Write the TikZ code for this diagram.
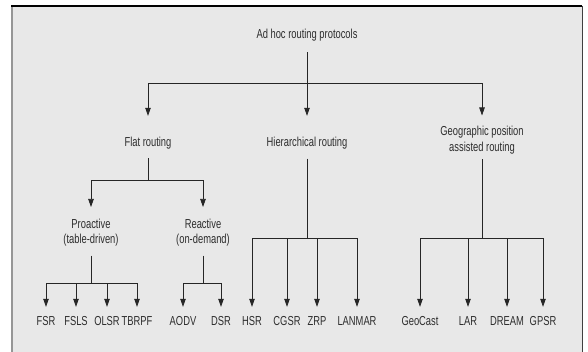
\documentclass[tikz,border=0pt]{standalone}
\usepackage{fontspec}
\setmainfont{Liberation Sans}[FakeStretch=0.72]
\usepackage{tikz}
\usetikzlibrary{arrows.meta}
\definecolor{panelgray}{RGB}{232, 232, 232}
\definecolor{inkgray}{RGB}{45, 45, 45}
\definecolor{edgegray}{RGB}{150, 150, 150}

\begin{document}
\begin{tikzpicture}[x=1pt, y=-1pt,
  lbl/.style={inner sep=0pt, text=inkgray, align=center, font=\fontsize{13}{15.5}\selectfont},
  leaf/.style={lbl, text height=9.3pt, text depth=2.7pt},
  stem/.style={draw=black!85, line width=0.7pt},
  arr/.style={draw=black!85, line width=0.7pt, -{Triangle[width=5.5pt, length=8pt]}, shorten >=9pt}]
\useasboundingbox (0,0) rectangle (588,352);
\fill[panelgray] (12,6) rectangle (582,352);
\draw[edgegray, line width=1.5pt] (12,6) -- (12,352);
\draw[black!75, line width=0.8pt] (582,6) -- (582,352);
\draw[black, line width=1.2pt] (11.25,6) -- (582.4,6);

% top level
\node[leaf] (root) at (307,35) {Ad hoc routing protocols};
\node[leaf] (flat) at (148,143) {Flat routing};
\node[leaf] (hier) at (307,143) {Hierarchical routing};
\node[lbl] (geo) at (482,140) {Geographic position\\assisted routing};
\coordinate (rootj) at (307,83);
\draw[stem, shorten <=11pt] (root) -- (rootj);
\draw[arr, shorten >=21pt] (rootj) -| (flat);
\draw[arr, shorten >=21pt] (rootj) -- (hier);
\draw[arr, shorten >=10.5pt] (rootj) -| (geo);

% flat routing
\node[lbl] (pro) at (91,232.5) {Proactive\\(table-driven)};
\node[lbl] (reac) at (203,232.5) {Reactive\\(on-demand)};
\coordinate (flatj) at (148,180);
\draw[stem, shorten <=9pt] (flat) -- (flatj);
\draw[arr, shorten >=11.5pt] (flatj) -| (pro);
\draw[arr, shorten >=11.5pt] (flatj) -| (reac);

% proactive
\node[leaf] (fsr) at (46,322) {FSR};
\node[leaf] (fsls) at (76,322) {FSLS};
\node[leaf] (olsr) at (107,322) {OLSR};
\node[leaf] (tbrpf) at (137,322) {TBRPF};
\coordinate (proj) at (91,283);
\draw[stem, shorten <=9pt] (pro) -- (proj);
\draw[arr] (proj) -| (fsr);
\draw[arr] (proj) -| (fsls);
\draw[arr] (proj) -| (olsr);
\draw[arr] (proj) -| (tbrpf);

% reactive
\node[leaf] (aodv) at (183,322) {AODV};
\node[leaf] (dsr) at (221,322) {DSR};
\coordinate (reacj) at (203,283);
\draw[stem, shorten <=9pt] (reac) -- (reacj);
\draw[arr] (reacj) -| (aodv);
\draw[arr] (reacj) -| (dsr);

% hierarchical
\node[leaf] (hsr) at (252,322) {HSR};
\node[leaf] (cgsr) at (287,322) {CGSR};
\node[leaf] (zrp) at (317,322) {ZRP};
\node[leaf] (lanmar) at (357,322) {LANMAR};
\coordinate (hierj) at (307,238);
\draw[stem, shorten <=9.5pt] (hier) -- (hierj);
\draw[arr] (hierj) -| (hsr);
\draw[arr] (hierj) -| (cgsr);
\draw[arr] (hierj) -| (zrp);
\draw[arr] (hierj) -| (lanmar);

% geographic
\node[leaf] (geocast) at (420,322) {GeoCast};
\node[leaf] (lar) at (468,322) {LAR};
\node[leaf] (dream) at (507,322) {DREAM};
\node[leaf] (gpsr) at (543,322) {GPSR};
\coordinate (geoj) at (482,238);
\draw[stem, shorten <=5pt] (geo) -- (geoj);
\draw[arr] (geoj) -| (geocast);
\draw[arr] (geoj) -| (lar);
\draw[arr] (geoj) -| (dream);
\draw[arr] (geoj) -| (gpsr);
\end{tikzpicture}
\end{document}
